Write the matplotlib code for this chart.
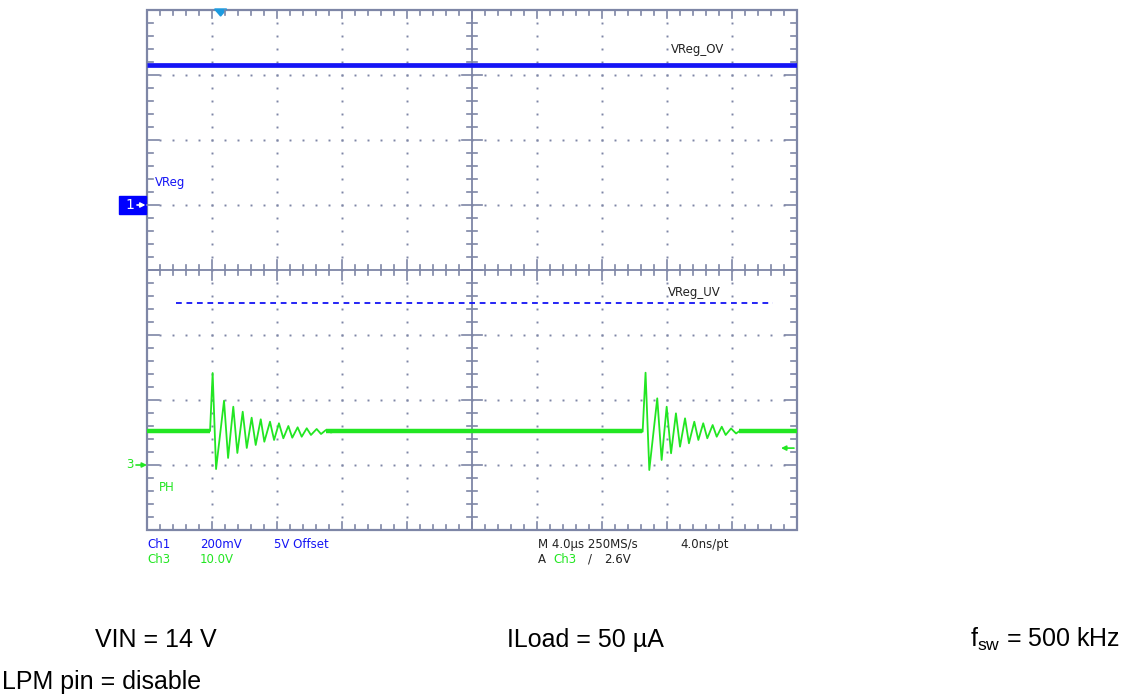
#!/usr/bin/env python3
"""Scope capture: VReg / PH ringing in skip mode (VIN=14 V, 50 uA load)."""
import numpy as np
import matplotlib
matplotlib.use("Agg")
import matplotlib.pyplot as plt
from matplotlib.patches import Rectangle, Polygon

plt.rcParams["mathtext.fontset"] = "custom"
plt.rcParams["mathtext.rm"] = "Liberation Sans"

# ---- channel / timebase settings ----
T_PER_DIV = 4.0          # us/div
CH1_SCALE = 0.2          # V/div
CH1_OFFSET = 5.0         # V
CH1_POS = 1.0            # div
CH3_SCALE = 10.0         # V/div
CH3_POS = -3.0           # div
TRIG_LEVEL = 2.6         # V on Ch3
TRIG_TIME = 4.53         # us from left edge

# ---- Ch1: VReg (V) ----
vreg_t = [0.0, 40.0]
vreg_v = [5.43, 5.43]
vreg_uv_t = [1.78, 38.5]
vreg_uv_v = [4.70, 4.70]

# ---- Ch3: PH switch node (V), peaks/troughs read from the capture ----
ph_t = [0.0, 3.88, 4.04, 4.25, 4.74, 4.99, 5.31, 5.56, 5.89, 6.14, 6.44,
        6.69, 7.00, 7.22, 7.57, 7.82, 8.12, 8.39, 8.70, 8.94, 9.27, 9.52,
        9.83, 10.09, 10.44, 10.71, 11.01, 11.32, 11.63,
        30.50, 30.68, 30.91, 31.40, 31.67, 31.98, 32.25, 32.55, 32.80,
        33.11, 33.35, 33.68, 33.93, 34.23, 34.48, 34.81, 35.06, 35.37,
        35.61, 35.94, 36.25, 36.55, 36.86, 40.0]
ph_v = [5.23, 5.23, 14.15, -0.62, 9.89, 1.08, 8.97, 1.85, 8.20, 2.62, 7.28,
        3.08, 7.03, 3.58, 6.66, 3.85, 6.42, 4.11, 6.00, 4.20, 5.80, 4.35,
        5.65, 4.62, 5.54, 4.77, 5.38, 5.00, 5.23,
        5.12, 14.20, -0.77, 10.26, 0.77, 8.97, 1.80, 7.95, 2.82,
        7.18, 3.34, 6.66, 3.85, 6.42, 4.11, 6.15, 4.35, 5.89,
        4.62, 5.62, 4.85, 5.38, 5.15, 5.23]
# idle (noisy flat) stretches of PH
ph_idle = [(0.0, 3.85), (11.0, 30.45), (36.4, 40.0)]
ph_base = 5.23

BLUE = "#1414f5"
GREEN = "#22e622"
GRID = "#7e86a6"
CYAN = "#1c9be0"

W_PX, H_PX = 1139, 695
fig = plt.figure(figsize=(W_PX / 100, H_PX / 100), dpi=100)
fig.patch.set_facecolor("white")
rect = [147 / W_PX, (H_PX - 530) / H_PX, 650 / W_PX, 520 / H_PX]

# ---- graticule (division units) ----
ax = fig.add_axes(rect)
ax.set_xlim(0, 10)
ax.set_ylim(-4, 4)
ax.axis("off")
px = 1 / 65.0  # one pixel in divisions

ax.add_patch(Rectangle((0, -4), 10, 8, fill=False, ec=GRID, lw=1.6,
                       clip_on=False))
ax.plot([5, 5], [-4, 4], color=GRID, lw=1.3)
ax.plot([0, 10], [0, 0], color=GRID, lw=1.3)

minor = np.round(np.arange(0.2, 10, 0.2), 3)
minor_y = np.round(np.arange(-3.8, 4, 0.2), 3)
for x in minor:
    L = 8 * px if abs(x - round(x)) < 1e-6 else 5 * px
    ax.plot([x, x], [4, 4 - L], color=GRID, lw=1.2, clip_on=False)
    ax.plot([x, x], [-4, -4 + L], color=GRID, lw=1.2, clip_on=False)
    c = 10 * px if abs(x - round(x)) < 1e-6 else 5 * px
    ax.plot([x, x], [-c, c], color=GRID, lw=1.2)
for y in minor_y:
    L = 12 * px if abs(y - round(y)) < 1e-6 else 6 * px
    ax.plot([0, L], [y, y], color=GRID, lw=1.2, clip_on=False)
    ax.plot([10, 10 - L], [y, y], color=GRID, lw=1.2, clip_on=False)
    c = 10 * px if abs(y - round(y)) < 1e-6 else 5 * px
    ax.plot([5 - c, 5 + c], [y, y], color=GRID, lw=1.2)

dots_x, dots_y = [], []
for k in range(1, 10):
    if k == 5:
        continue
    dots_x += [k] * len(minor_y)
    dots_y += list(minor_y)
for m in range(-3, 4):
    if m == 0:
        continue
    dots_x += list(minor)
    dots_y += [m] * len(minor)
ax.plot(dots_x, dots_y, ls="", marker="s", ms=1.4, mew=0, color=GRID)

# ---- Ch1 overlay ----
ax1 = fig.add_axes(rect)
ax1.set_xlim(0, 10 * T_PER_DIV)
ax1.set_ylim(CH1_OFFSET + (-4 - CH1_POS) * CH1_SCALE,
             CH1_OFFSET + (4 - CH1_POS) * CH1_SCALE)
ax1.axis("off")
ax1.plot(vreg_t, vreg_v, color=BLUE, lw=3.4, solid_capstyle="butt")
ax1.plot(vreg_uv_t, vreg_uv_v, color=BLUE, lw=1.3, ls=(0, (3.2, 2.6)))

# ---- Ch3 overlay ----
ax3 = fig.add_axes(rect)
ax3.set_xlim(0, 10 * T_PER_DIV)
ax3.set_ylim((-4 - CH3_POS) * CH3_SCALE, (4 - CH3_POS) * CH3_SCALE)
ax3.axis("off")
for t0, t1 in ph_idle:
    ax3.plot([t0, t1], [ph_base, ph_base], color=GREEN, lw=3.2,
             solid_capstyle="butt")
ax3.plot(ph_t, ph_v, color=GREEN, lw=1.3)

# ---- on-screen labels ----
mono = dict(family="DejaVu Sans", fontsize=8.5)
ax.text(8 * px, 1 + 19 * px, "VReg", color=BLUE, va="baseline", **mono)
ax.text(12 * px, -3 - 26 * px, "PH", color=GREEN, va="baseline", **mono)
ax.text(524 * px, 4 - 43 * px, "VReg_OV", color="#222222", va="baseline", **mono)
ax.text(521 * px, -26 * px, "VReg_UV", color="#222222", va="baseline", **mono)


def marker_arrow(x0, x1, y, color):
    ax.annotate("", xy=(x1, y), xytext=(x0, y),
                arrowprops=dict(arrowstyle="-|>", color=color, lw=1.2,
                                mutation_scale=7, shrinkA=0, shrinkB=0),
                annotation_clip=False)


# channel ground markers
ax.add_patch(Rectangle((-28 * px, CH1_POS - 9 * px), 27 * px, 18 * px,
                       color="#0000ff", clip_on=False))
ax.text(-17 * px, CH1_POS, "1", color="white", ha="center", va="center",
        fontsize=10, family="DejaVu Sans")
marker_arrow(-10 * px, -1.5 * px, CH1_POS, "white")
ax.text(-17 * px, CH3_POS, "3", color=GREEN, ha="center", va="center",
        fontsize=8.5, family="DejaVu Sans")
marker_arrow(-11 * px, 0, CH3_POS, GREEN)

# trigger level (Ch3) and trigger position
trig_div = TRIG_LEVEL / CH3_SCALE + CH3_POS
marker_arrow(10 - 3 * px, 10 - 16 * px, trig_div, GREEN)
tx = TRIG_TIME / T_PER_DIV
ax.add_patch(Polygon([(tx - 6 * px, 4 + 1 * px), (tx + 6 * px, 4 + 1 * px),
                      (tx, 4 - 6 * px)],
                     closed=True, color=CYAN, clip_on=False))

# ---- readout below graticule ----
def ftxt(x, y, s, **kw):
    fig.text(x / W_PX, 1 - y / H_PX, s, va="baseline", **kw)


ftxt(147, 548, "Ch1", color=BLUE, **mono)
ftxt(200, 548, "200mV", color=BLUE, **mono)
ftxt(274, 548, "5V Offset", color=BLUE, **mono)
ftxt(147, 563, "Ch3", color=GREEN, **mono)
ftxt(200, 563, "10.0V", color=GREEN, **mono)
ftxt(538, 548, "M 4.0\u00b5s 250MS/s", color="#222222", **mono)
ftxt(680, 548, "4.0ns/pt", color="#222222", **mono)
ftxt(538, 563, "A", color="#222222", **mono)
ftxt(553, 563, "Ch3", color=GREEN, **mono)
ftxt(588, 563, "/", color="#222222", **mono)
ftxt(604, 563, "2.6V", color="#222222", **mono)

# ---- test conditions ----
cond = dict(family="Liberation Sans", fontsize=18, color="black")
ftxt(95, 647, "VIN = 14 V", **cond)
ftxt(507, 647, "ILoad = 50 \u00b5A", **cond)
ftxt(1120, 647, "f$_\\mathregular{sw}$ = 500 kHz", ha="right", **cond)
ftxt(2, 689, "LPM pin = disable", **cond)

fig.savefig("out.png", dpi=100, facecolor="white")
plt.close(fig)
